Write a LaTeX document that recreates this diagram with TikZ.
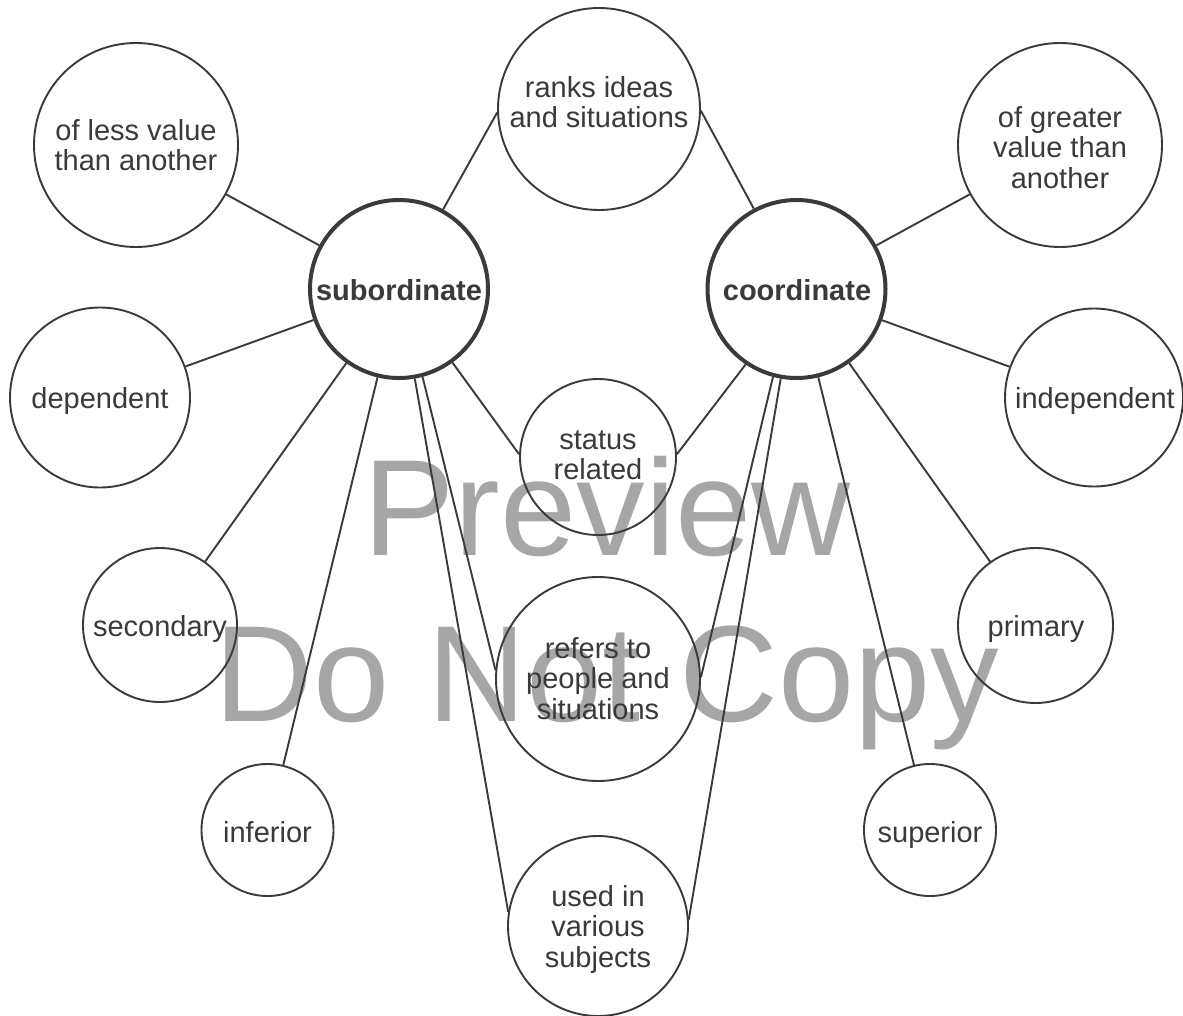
\documentclass[tikz,border=0pt]{standalone}
\usepackage{fontspec}
\setmainfont{Liberation Sans}
\definecolor{ink}{HTML}{3A3A3A}
\definecolor{stamp}{HTML}{A6A6A6}
% centred block of lines whose reference point is the first baseline
\newcommand{\stack}[1]{\begin{tabular}[t]{@{}c@{}}#1\end{tabular}}

\begin{document}
\begin{tikzpicture}[x=1pt, y=-1pt,
  bubble/.style={circle, draw=ink, line width=1.9pt, inner sep=0pt, minimum size=#1},
  hub/.style={circle, draw=ink, line width=4pt, inner sep=0pt, minimum size=#1},
  lbl/.style={anchor=base, inner sep=0pt, text=ink, font=\fontsize{29}{30.5}\selectfont},
  hublbl/.style={lbl, font=\fontsize{29}{30.5}\selectfont\bfseries},
  wm/.style={anchor=base, inner sep=0pt, text=stamp, font=\fontsize{137}{140}\selectfont},
  link/.style={draw=ink, line width=1.9pt}]

\fill[white] (0,0) rectangle (1183,1015);
\useasboundingbox (0,0) rectangle (1183,1015);

% watermark behind everything
\node[wm] (wmA) at (607,555) {Preview};
\node[wm] (wmB) at (607,721) {Do Not Copy};

% circles
\node[hub=178pt]    (sub)     at (399,289)    {};
\node[hub=178pt]    (coord)   at (796.5,289)  {};
\node[bubble=204pt] (less)    at (136,145)    {};
\node[bubble=202pt] (ranks)   at (599,109)    {};
\node[bubble=204pt] (greater) at (1060,145)   {};
\node[bubble=180pt] (dep)     at (100,397.5)  {};
\node[bubble=178pt] (indep)   at (1094,397.5) {};
\node[bubble=156pt] (status)  at (598,457)    {};
\node[bubble=154pt] (sec)     at (160,625)    {};
\node[bubble=155pt] (prim)    at (1035.5,625.5) {};
\node[bubble=204pt] (refers)  at (598,679)    {};
\node[bubble=132pt] (inf)     at (267.5,830)  {};
\node[bubble=132pt] (sup)     at (930,830)    {};
\node[bubble=180pt] (used)    at (598,926)    {};

% labels (placed on the first baseline)
\node[hublbl] (subT)     at (399,300)    {subordinate};
\node[hublbl] (coordT)   at (797,300)    {coordinate};
\node[lbl]    (lessT)    at (136,140)    {\stack{of less value\\than another}};
\node[lbl]    (ranksT)   at (599,97)     {\stack{ranks ideas\\and situations}};
\node[lbl]    (greaterT) at (1060,127)   {\stack{of greater\\value than\\another}};
\node[lbl]    (depT)     at (100,408)    {dependent};
\node[lbl]    (indepT)   at (1095,408)   {independent};
\node[lbl]    (statusT)  at (598,449)    {\stack{status\\related}};
\node[lbl]    (secT)     at (160,636)    {secondary};
\node[lbl]    (primT)    at (1036,636)   {primary};
\node[lbl]    (refersT)  at (598,658)    {\stack{refers to\\people and\\situations}};
\node[lbl]    (infT)     at (267.5,842)  {inferior};
\node[lbl]    (supT)     at (930,842)    {superior};
\node[lbl]    (usedT)    at (598,906)    {\stack{used in\\various\\subjects}};

% connectors from subordinate
\draw[link] (sub) -- (less);
\draw[link] (sub) -- (dep);
\draw[link] (sub) -- (sec);
\draw[link] (sub) -- (inf);
\draw[link] (sub.61) -- (ranks.182);
\draw[link] (sub.306) -- (status.178);
\draw[link] (sub.285) -- (refers.175);
\draw[link] (sub.280) -- (used.171);

% connectors from coordinate
\draw[link] (coord) -- (greater);
\draw[link] (coord) -- (indep);
\draw[link] (coord) -- (prim);
\draw[link] (coord) -- (sup);
\draw[link] (ranks.359) -- (coord.118);
\draw[link] (coord.236) -- (status.2);
\draw[link] (coord.255) -- (refers.1);
\draw[link] (coord.260) -- (used.4);
\end{tikzpicture}
\end{document}
